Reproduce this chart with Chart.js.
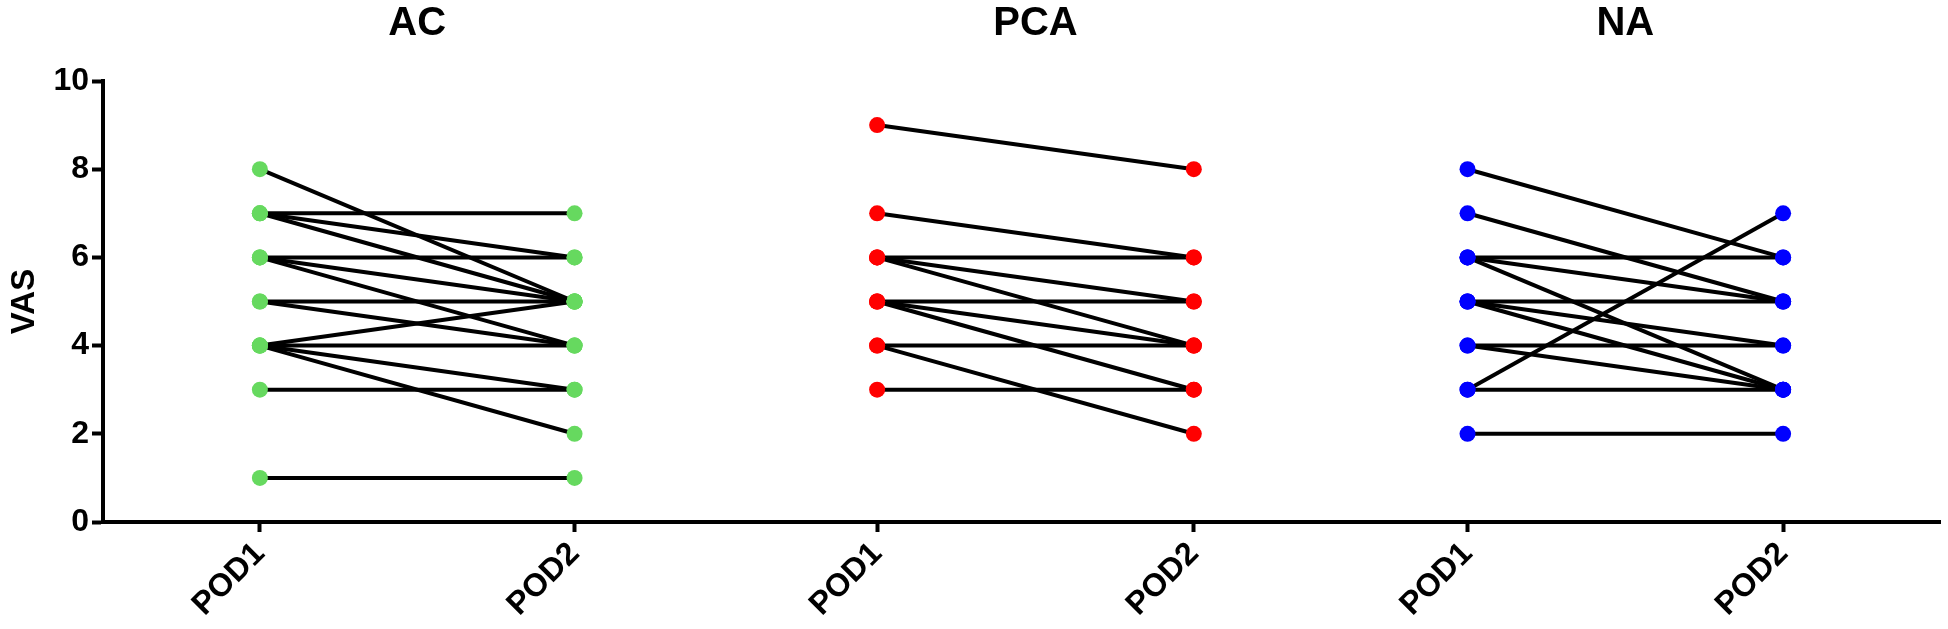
<!DOCTYPE html>
<html lang="en">
<head>
  <meta charset="UTF-8" />
  <title>VAS POD1 vs POD2</title>
  <script src="https://cdn.jsdelivr.net/npm/chart.js"></script>
  <style>
    body {
      margin: 0;
      background: #ffffff;
    }
    #wrap {
      width: 1948px;
      height: 629px;
    }
  </style>
</head>
<body>

<div id="wrap"><canvas id="vasChart" width="1948" height="629"></canvas></div>

<script>
  // data: one entry per patient line (POD1 -> POD2)
  const groups = ['AC', 'PCA', 'NA'];
  const timepoints = ['POD1', 'POD2'];
  const yTicks = [0, 2, 4, 6, 8, 10];

  const acPod1  = [8, 7, 7, 7, 6, 6, 6, 5, 5, 4, 4, 4, 4, 3, 1];
  const acPod2  = [5, 7, 6, 5, 6, 5, 4, 5, 4, 5, 4, 3, 2, 3, 1];
  const pcaPod1 = [9, 7, 6, 6, 6, 5, 5, 5, 4, 4, 3];
  const pcaPod2 = [8, 6, 6, 5, 4, 5, 4, 3, 4, 2, 3];
  const naPod1  = [8, 7, 6, 6, 6, 5, 5, 5, 4, 4, 3, 3, 2];
  const naPod2  = [6, 5, 6, 5, 3, 5, 4, 3, 4, 3, 7, 3, 2];

  // layout: where each POD column sits on the (0-100) x axis, and group colours
  const slotPos = [8.54, 25.67, 42.14, 59.38, 74.28, 91.46];
  const groupColors = ['#66d95f', '#ff0000', '#0000ff'];
  const FONT = "'Liberation Sans', Arial, Helvetica, sans-serif";

  const series = [
    [acPod1, acPod2],
    [pcaPod1, pcaPod2],
    [naPod1, naPod2]
  ];

  const datasets = [];
  series.forEach((s, g) => {
    const x1 = slotPos[g * 2], x2 = slotPos[g * 2 + 1];
    // connecting lines
    s[0].forEach((v, i) => {
      datasets.push({
        type: 'line',
        data: [{ x: x1, y: v }, { x: x2, y: s[1][i] }],
        borderColor: '#000000',
        borderWidth: 4,
        pointRadius: 0,
        fill: false,
        order: 2
      });
    });
    // dots on top
    [0, 1].forEach(t => {
      datasets.push({
        type: 'scatter',
        data: s[t].map(v => ({ x: slotPos[g * 2 + t], y: v })),
        backgroundColor: groupColors[g],
        borderWidth: 0,
        pointRadius: 8,
        showLine: false,
        order: 0
      });
    });
  });

  const groupTitles = {
    id: 'groupTitles',
    afterDraw(chart) {
      const ctx = chart.ctx;
      const xs = chart.scales.x;
      ctx.save();
      ctx.font = 'bold 40px ' + FONT;
      ctx.fillStyle = '#000';
      ctx.textAlign = 'center';
      ctx.textBaseline = 'middle';
      groups.forEach((name, g) => {
        const cx = (xs.getPixelForValue(slotPos[g * 2]) + xs.getPixelForValue(slotPos[g * 2 + 1])) / 2;
        ctx.fillText(name, cx, 24);
      });
      ctx.restore();
    }
  };

  new Chart(document.getElementById('vasChart'), {
    data: { datasets },
    plugins: [groupTitles],
    options: {
      responsive: false,
      animation: false,
      devicePixelRatio: 1,
      layout: { padding: { top: 81, right: 6, left: 0, bottom: 0 } },
      plugins: {
        legend: { display: false },
        tooltip: { enabled: false }
      },
      scales: {
        x: {
          type: 'linear',
          min: 0,
          max: 100,
          afterBuildTicks: axis => {
            axis.ticks = slotPos.map(v => ({ value: v }));
          },
          afterFit: scale => { scale.height = 107; },
          grid: {
            drawOnChartArea: false,
            drawTicks: true,
            tickLength: 10,
            tickWidth: 4,
            color: '#000'
          },
          border: { display: true, color: '#000', width: 4 },
          ticks: {
            autoSkip: false,
            maxRotation: 45,
            minRotation: 45,
            padding: 3,
            color: '#000',
            font: { family: FONT, size: 32, weight: 'bold' },
            callback: (value, index) => timepoints[index % 2]
          }
        },
        y: {
          min: 0,
          max: 10,
          afterBuildTicks: axis => {
            axis.ticks = yTicks.map(v => ({ value: v }));
          },
          afterFit: scale => { scale.width = 103; },
          grid: {
            drawOnChartArea: false,
            drawTicks: true,
            tickLength: 11,
            tickWidth: 4,
            color: '#000'
          },
          border: { display: true, color: '#000', width: 4 },
          ticks: {
            padding: 3,
            color: '#000',
            font: { family: FONT, size: 32, weight: 'bold' }
          },
          title: {
            display: true,
            text: 'VAS',
            color: '#000',
            padding: { top: 5, bottom: 0 },
            font: { family: FONT, size: 33, weight: 'bold' }
          }
        }
      }
    }
  });
</script>

</body>
</html>
